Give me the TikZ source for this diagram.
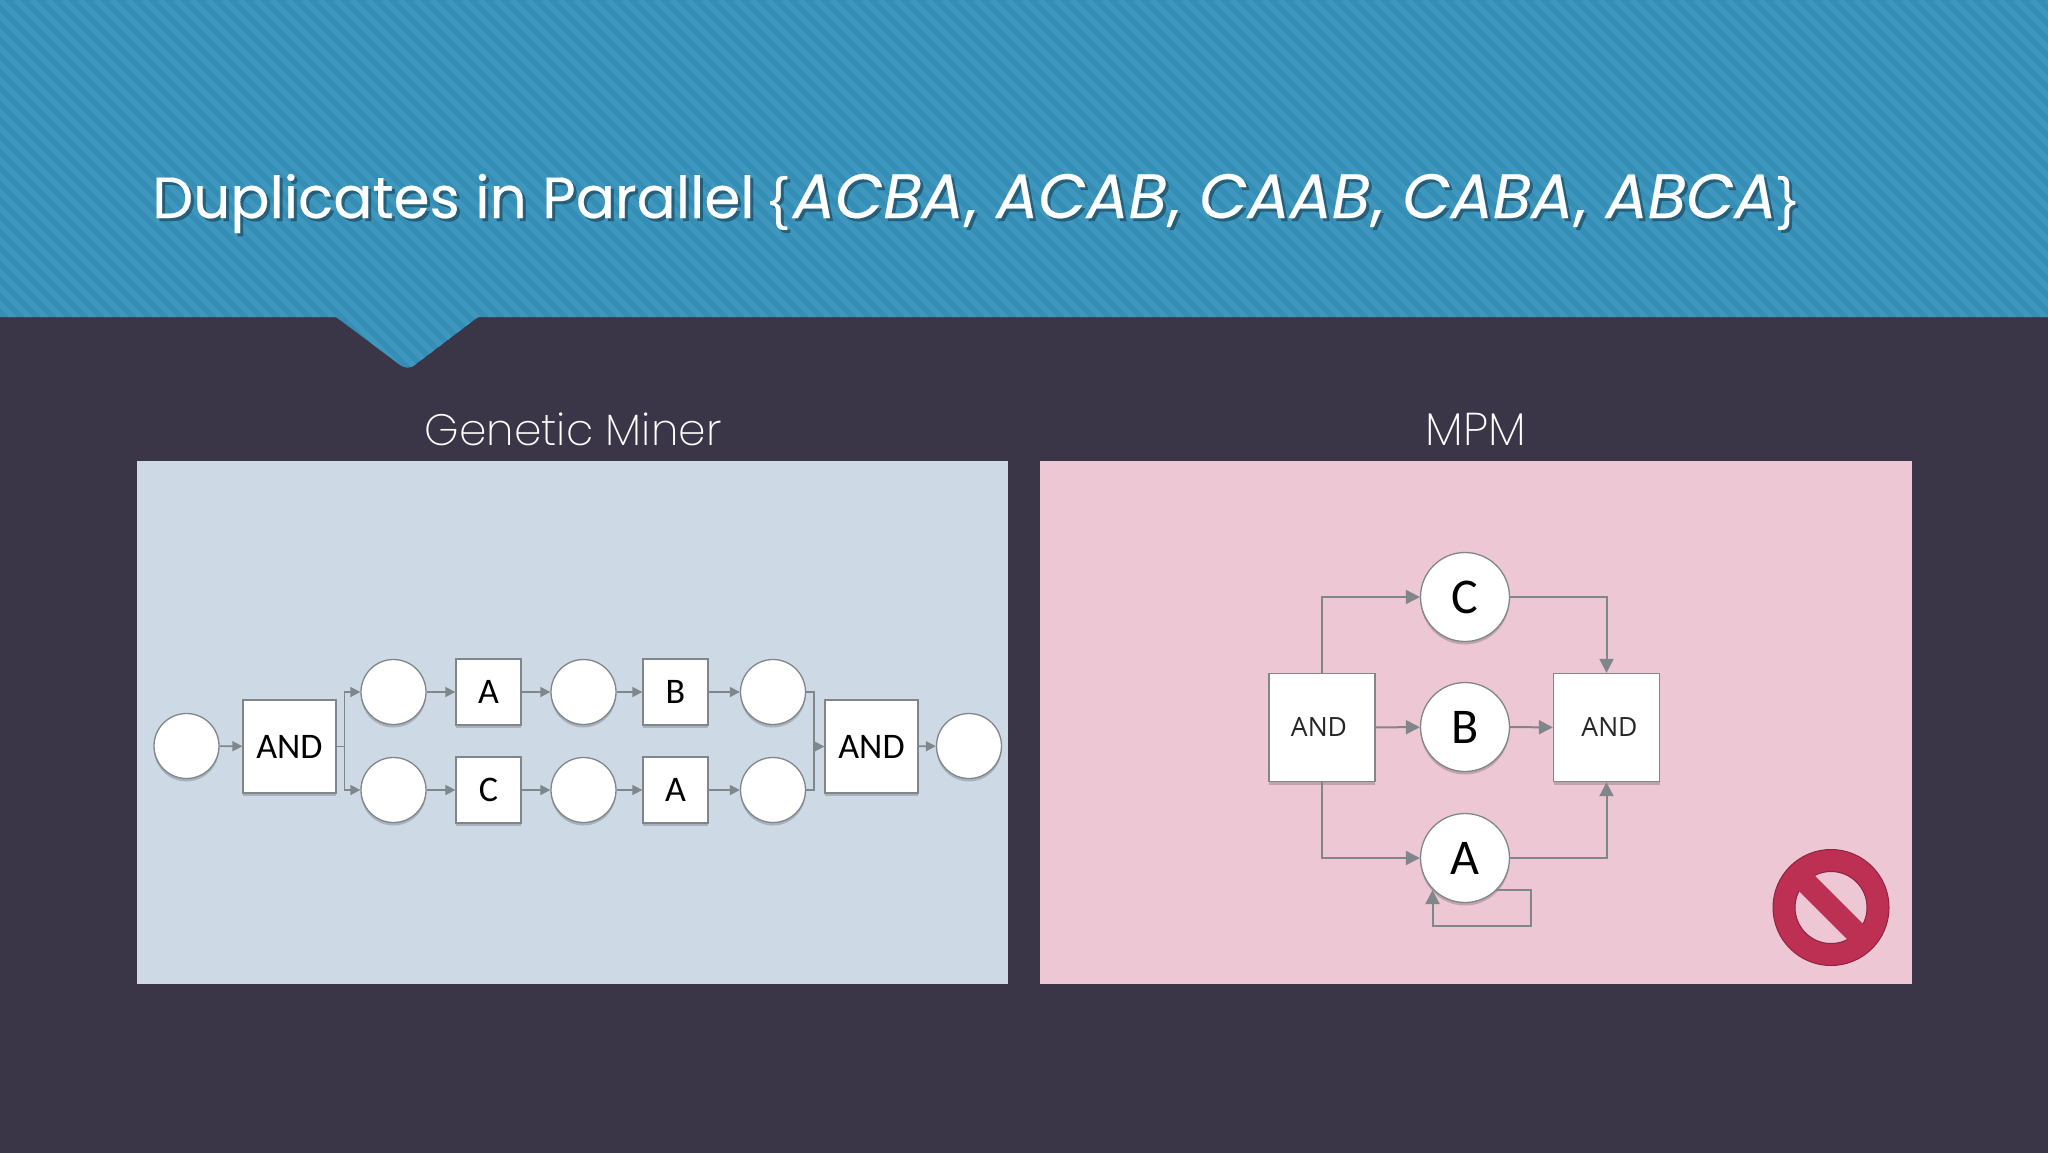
\documentclass[tikz,border=0pt]{standalone}
\usepackage{fontspec}
\setmainfont{Poppins}
\newfontfamily\lbl{Carlito}
\newfontfamily\thin{Poppins ExtraLight}
\newfontfamily\andf{Open Sans}
\newfontfamily\ttl[FakeBold=0.25]{Poppins}
\newfontfamily\brc{Liberation Sans}
\newcommand{\titletext}{{\fontsize{58}{66}\selectfont Duplicates in Parallel}\hspace{15pt}{\brc\fontsize{58}{66}\selectfont\{}\hspace{4pt}\fontsize{62.5}{66}\selectfont\textit{ACBA},\hspace{20pt}\textit{ACAB},\hspace{20pt}\textit{CAAB},\hspace{20pt}\textit{CABA},\hspace{20pt}\textit{ABCA}\hspace{1pt}{\brc\fontsize{58}{66}\selectfont\}}}
\usetikzlibrary{arrows.meta,shadows}
\definecolor{bgdark}{HTML}{3A3547}
\definecolor{hdr}{HTML}{358EB6}
\definecolor{hdrs}{HTML}{3F97BD}
\definecolor{pblue}{HTML}{CDDAE6}
\definecolor{ppink}{HTML}{EDC8D4}
\definecolor{edge}{HTML}{808689}
\definecolor{stopc}{HTML}{BD3053}
\tikzset{
 x=1pt,y=-1pt,
 place/.style={circle,draw=edge,line width=1.3pt,fill=white,minimum size=65pt,inner sep=0pt,drop shadow={shadow xshift=0pt,shadow yshift=-3pt,opacity=.18,fill=black}},
 trans/.style={rectangle,draw=edge,line width=1.3pt,fill=white,minimum width=65pt,minimum height=66pt,inner sep=0pt,font=\lbl\fontsize{36}{40}\selectfont,text=black,drop shadow={shadow xshift=0pt,shadow yshift=-3pt,opacity=.18,fill=black}},
 andbox/.style={trans,minimum width=93pt,minimum height=93pt,font=\lbl\fontsize{36}{40}\selectfont},
 bigplace/.style={place,minimum size=89pt,font=\lbl\fontsize{50}{54}\selectfont,text=black},
 bigand/.style={trans,minimum width=106pt,minimum height=108pt,font=\andf\fontsize{26.5}{30}\selectfont,text=black!85},
 conn/.style={draw=edge,line width=1.6pt,-{Triangle[length=10pt,width=10pt]}},
 plainconn/.style={draw=edge,line width=1.6pt},
 bconn/.style={draw=edge,line width=2pt,-{Triangle[length=14pt,width=14pt]}},
 heading/.style={text=white,font=\thin\fontsize{44}{50}\selectfont,anchor=base},
}
\begin{document}
\begin{tikzpicture}
\useasboundingbox (0,0) rectangle (2048,1152);
\fill[bgdark] (-3,-3) rectangle (2051,1155);
% banner
\begin{scope}
\clip (-3,-3) -- (2051,-3) -- (2051,317) -- (478,317) -- (416,364) .. controls (410,369) and (405,369) .. (399,364) -- (336,317) -- (-3,317) -- cycle;
\fill[hdr] (-3,-3) rectangle (2051,380);
\foreach \k in {-400,-384,...,2050}{
  \draw[hdrs,line width=5.5pt] (\k,0) -- ++(400,400);
}
\end{scope}
% title
\node[anchor=base west,inner sep=0pt,text=black!55!hdr,opacity=.6,font=\ttl] (titleshadow) at (155,221) {\titletext};
\node[anchor=base west,inner sep=0pt,text=white,font=\ttl] (title) at (152,218) {\titletext};
% headings
\node[heading] (hgm) at (573,445) {Genetic Miner};
\node[heading,font=\thin\fontsize{46}{50}\selectfont] (hmpm) at (1476,445) {MPM};
% panels
\fill[pblue] (137,461) rectangle (1008,984);
\fill[ppink] (1040,461) rectangle (1912,984);
% left net
\node[place] (p0) at (186.5,746) {};
\node[andbox] (and1) at (289.5,746.5) {AND};
\node[place] (p1) at (393.5,692) {};
\node[place] (p2) at (393.5,790) {};
\node[trans] (a1) at (488.5,692) {A};
\node[trans] (c1) at (488.5,790) {C};
\node[place] (p3) at (583.5,692) {};
\node[place] (p4) at (583.5,790) {};
\node[trans] (b1) at (675.5,692) {B};
\node[trans] (a2) at (675.5,790) {A};
\node[place] (p5) at (773,692) {};
\node[place] (p6) at (773,790) {};
\node[andbox] (and2) at (871.5,746.5) {AND};
\node[place] (p7) at (969,746) {};
\draw[conn] (p0) -- (and1);
\draw[conn] (and1.east) -- ++(8,0) |- (p1);
\draw[conn] (and1.east) -- ++(8,0) |- (p2);
\draw[conn] (p1) -- (a1);
\draw[conn] (p2) -- (c1);
\draw[conn] (a1) -- (p3);
\draw[conn] (c1) -- (p4);
\draw[conn] (p3) -- (b1);
\draw[conn] (p4) -- (a2);
\draw[conn] (b1) -- (p5);
\draw[conn] (a2) -- (p6);
\draw[plainconn] (p5) -| (814,790) -- (p6);
\coordinate (join) at (814,746.5);
\draw[conn] (join) -- (and2);
\draw[conn] (and2) -- (p7);
% right net
\node[bigand,text width=106pt,align=center] (and3) at (1322,727.5) {\hspace*{-6pt}\raisebox{1.5pt}{AND}};
\node[bigand,text width=106pt,align=center] (and4) at (1606.5,727.5) {\hspace*{6pt}\raisebox{1.5pt}{AND}};
\node[bigplace] (c) at (1465,597) {C};
\node[bigplace] (b) at (1465,727) {B};
\node[bigplace] (a) at (1465,858) {A};
\draw[bconn] (and3.north) |- (c);
\draw[bconn] (and3) -- (b);
\draw[bconn] (and3.south) |- (a);
\draw[bconn] (c) -| (and4.north);
\draw[bconn] (b) -- (and4);
\draw[bconn] (a) -| (and4.south);
\coordinate (la) at (1496,890);
\coordinate (lb) at (1530.5,890);
\coordinate (lc) at (1530.5,926);
\coordinate (ld) at (1432.5,926);
\coordinate (le) at (1432.5,890);
\draw[bconn] (la) -- (lb) -- (lc) -- (ld) -- (le);
% prohibition sign
\begin{scope}[shift={(1831,907.5)}]
\fill[stopc,draw=black!25!stopc,line width=1pt,even odd rule] (0,0) circle (58) (0,0) circle (36);
\fill[stopc,rotate=-45] (-40,-11) rectangle (40,11);
\end{scope}
\end{tikzpicture}
\end{document}
